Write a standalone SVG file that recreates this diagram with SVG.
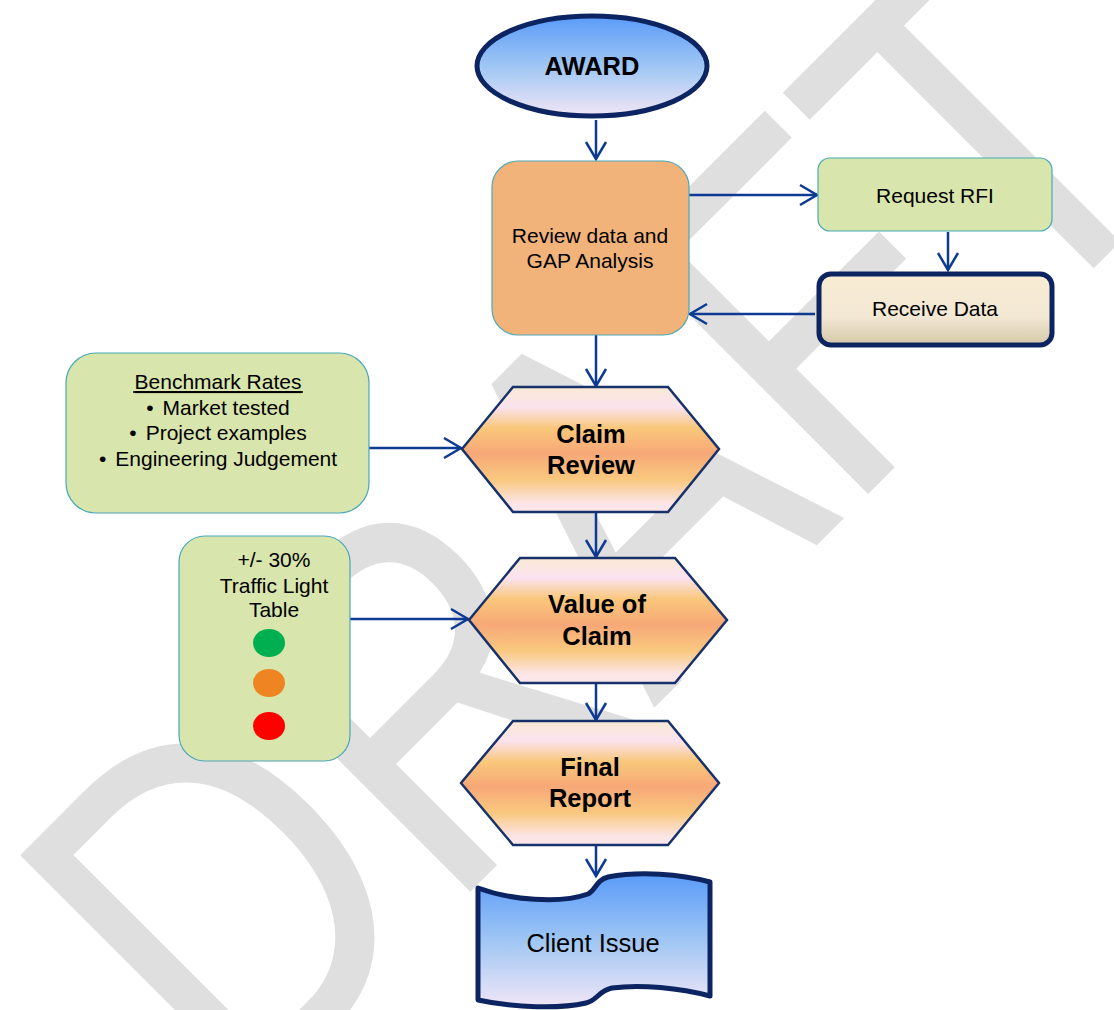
<svg xmlns="http://www.w3.org/2000/svg" width="1114" height="1010" viewBox="0 0 1114 1010">
  <defs>
    <linearGradient id="gBlue" x1="0" y1="0" x2="0" y2="1">
      <stop offset="0" stop-color="#5a9bf8"/>
      <stop offset="0.5" stop-color="#9fc6f4"/>
      <stop offset="1" stop-color="#f1e6f6"/>
    </linearGradient>
    <linearGradient id="gHex" x1="0" y1="0" x2="0" y2="1">
      <stop offset="0" stop-color="#fae9d4"/>
      <stop offset="0.16" stop-color="#fbe3ef"/>
      <stop offset="0.33" stop-color="#f9c77a"/>
      <stop offset="0.53" stop-color="#f7a878"/>
      <stop offset="0.74" stop-color="#f9c87e"/>
      <stop offset="0.93" stop-color="#fce5e6"/>
      <stop offset="1" stop-color="#fbe6ea"/>
    </linearGradient>
    <linearGradient id="gCream" x1="0" y1="0" x2="0" y2="1">
      <stop offset="0" stop-color="#f9ecd3"/>
      <stop offset="0.6" stop-color="#f2e8d4"/>
      <stop offset="1" stop-color="#d5c8a8"/>
    </linearGradient>
    <marker id="arr" markerUnits="userSpaceOnUse" markerWidth="24" markerHeight="24" viewBox="-20 -12 24 24" refX="0" refY="0" orient="auto">
      <path d="M-17,-10 L0,0 L-17,10" fill="none" stroke="#0d3b93" stroke-width="2.5"/>
    </marker>
    <style>
      .wm { font-family: "Liberation Sans", Arial, sans-serif; font-size: 500px; fill: #dfdfdf; }
      .t { font-family: "Liberation Sans", Arial, sans-serif; font-size: 21px; fill: #000; text-anchor: middle; }
      .tb { font-family: "Liberation Sans", Arial, sans-serif; font-size: 25.5px; font-weight: bold; fill: #000; text-anchor: middle; }
      .green { fill: #d8e5ac; stroke: #4aa8b8; stroke-width: 1.2; }
      .orange { fill: #f2b37a; stroke: #4aa8b8; stroke-width: 1.2; }
      .hex { fill: url(#gHex); stroke: #17326b; stroke-width: 2.5; }
      .thick { stroke: #0c2461; stroke-width: 5; }
      .conn { fill: none; stroke: #0d3b93; stroke-width: 2.5; marker-end: url(#arr); }
    </style>
  </defs>
  <rect width="1114" height="1010" fill="#ffffff"/>
  <text class="wm" transform="translate(240 1122) rotate(-45) scale(0.81 1)">DRAFT</text>

  <g id="connectors">
    <path class="conn" d="M596,120 V159"/>
    <path class="conn" d="M689,195 H817"/>
    <path class="conn" d="M948,232 V270"/>
    <path class="conn" d="M815,314 H690"/>
    <path class="conn" d="M596,335 V386"/>
    <path class="conn" d="M369,448 H461"/>
    <path class="conn" d="M596,512 V557"/>
    <path class="conn" d="M350,619 H468"/>
    <path class="conn" d="M596,683 V720"/>
    <path class="conn" d="M596,845 V876"/>
  </g>

  <g id="award">
    <ellipse cx="592" cy="66" rx="115" ry="50" fill="url(#gBlue)" class="thick"/>
    <text class="tb" x="592" y="75">AWARD</text>
  </g>

  <g id="review-data">
    <rect class="orange" x="492" y="161" width="197" height="174" rx="26"/>
    <text class="t" x="590" y="243">Review data and</text>
    <text class="t" x="590" y="268">GAP Analysis</text>
  </g>

  <g id="request-rfi">
    <rect class="green" x="818" y="158" width="234" height="73" rx="12"/>
    <text class="t" x="935" y="203">Request RFI</text>
  </g>

  <g id="receive-data">
    <rect x="819" y="274" width="233" height="71" rx="12" fill="url(#gCream)" class="thick"/>
    <text class="t" x="935" y="316">Receive Data</text>
  </g>

  <g id="benchmark">
    <rect class="green" x="66" y="353" width="303" height="160" rx="30"/>
    <text class="t" x="218" y="389" text-decoration="underline">Benchmark Rates</text>
    <line x1="133" y1="392" x2="303" y2="392" stroke="#000" stroke-width="1.3"/>
    <text class="t" x="218" y="415">•<tspan dx="9">Market tested</tspan></text>
    <text class="t" x="218" y="440">•<tspan dx="9">Project examples</tspan></text>
    <text class="t" x="218" y="466">•<tspan dx="9">Engineering Judgement</tspan></text>
  </g>

  <g id="claim-review">
    <polygon class="hex" points="462,449 513,387 668,387 719,449 668,512 513,512"/>
    <text class="tb" x="591" y="443">Claim</text>
    <text class="tb" x="591" y="474">Review</text>
  </g>

  <g id="traffic-light">
    <rect class="green" x="179" y="536" width="171" height="225" rx="26"/>
    <text class="t" x="274" y="567">+/- 30%</text>
    <text class="t" x="274" y="593">Traffic Light</text>
    <text class="t" x="274" y="617">Table</text>
    <ellipse cx="269" cy="643" rx="16" ry="14" fill="#00b050"/>
    <ellipse cx="269" cy="683" rx="16" ry="14" fill="#ef8522"/>
    <ellipse cx="269" cy="726" rx="16" ry="14" fill="#ff0000"/>
  </g>

  <g id="value-of-claim">
    <polygon class="hex" points="469,620 520,558 675,558 727,620 675,683 520,683"/>
    <text class="tb" x="597" y="613">Value of</text>
    <text class="tb" x="597" y="645">Claim</text>
  </g>

  <g id="final-report">
    <polygon class="hex" points="461,783 513,721 668,721 719,783 668,845 513,845"/>
    <text class="tb" x="590" y="776">Final</text>
    <text class="tb" x="590" y="807">Report</text>
  </g>

  <g id="client-issue">
    <path d="M478,888 C510,900 560,904 588,894 C596,890 596,880 608,877 C640,871 680,874 710,882 L710,996 C680,988 640,984 612,988 C598,991 598,1000 586,1003 C560,1009 515,1008 478,1000 Z" fill="url(#gBlue)" class="thick" stroke-linejoin="round"/>
    <text class="t" x="593" y="952" style="font-size:25.5px">Client Issue</text>
  </g>
</svg>
